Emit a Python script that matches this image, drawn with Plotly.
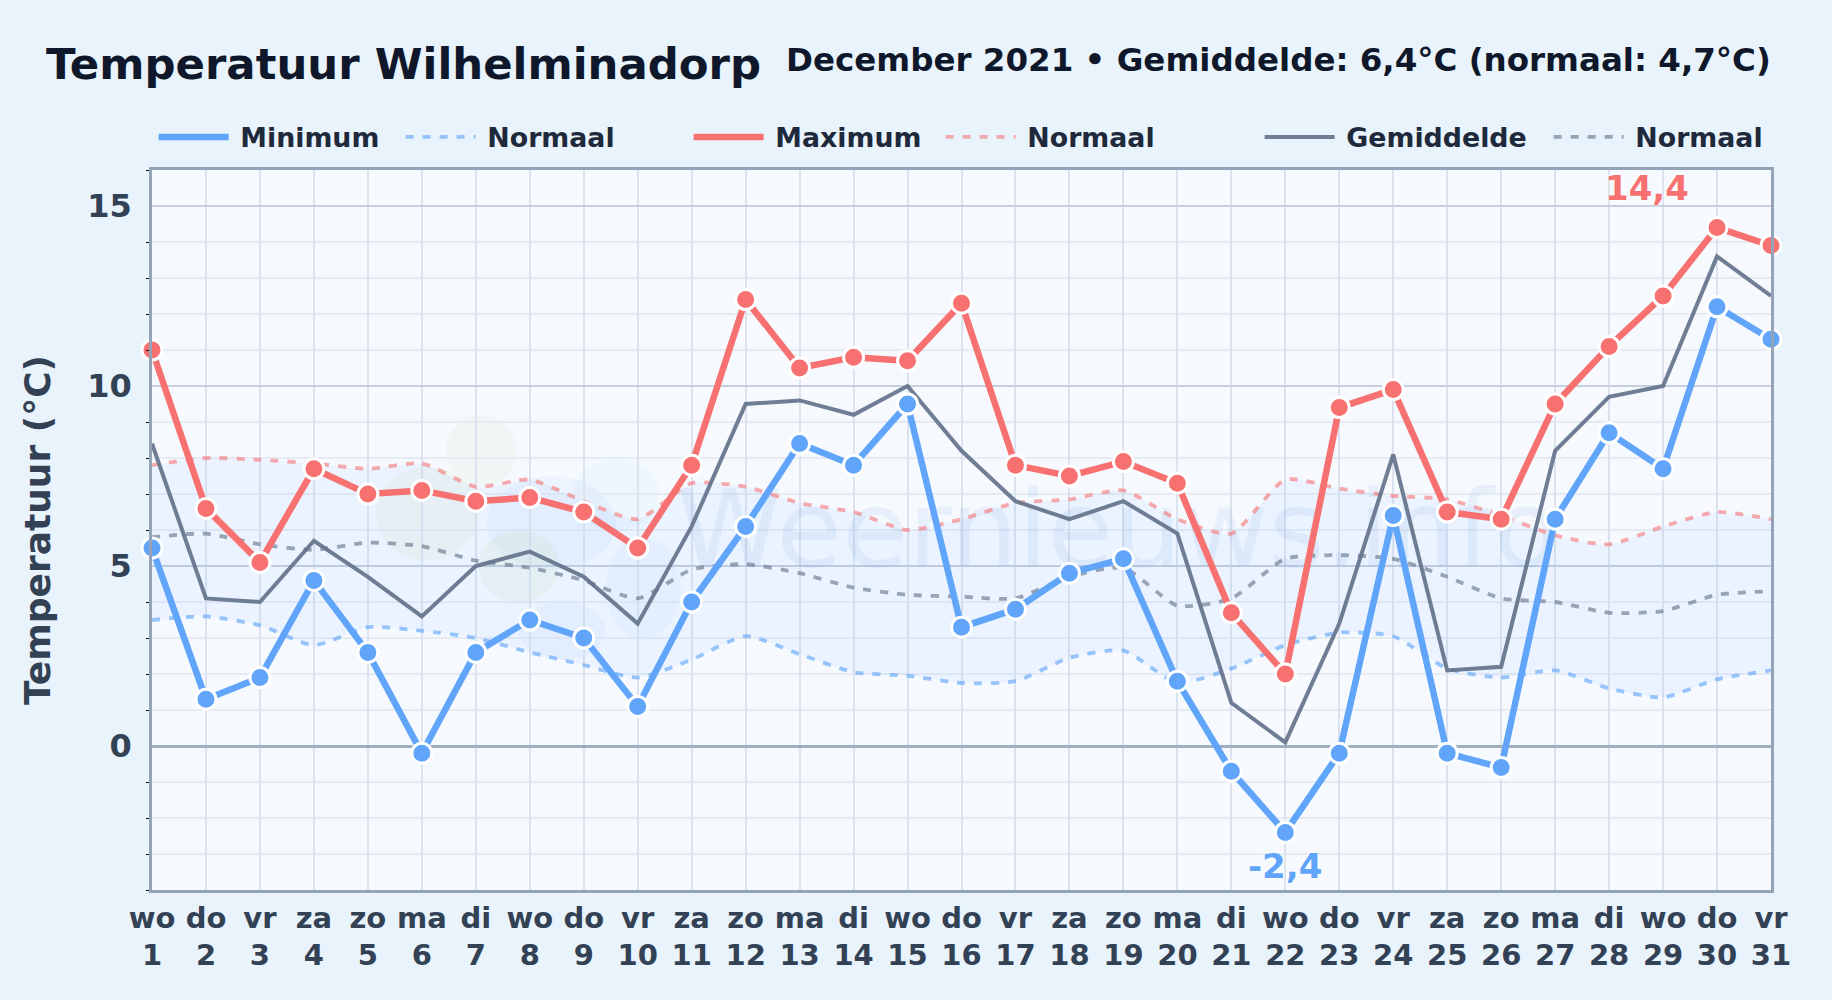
import plotly.graph_objects as go

days = list(range(1, 32))
weekdays = ["wo","do","vr","za","zo","ma","di"] * 5
tick_labels = [f"{weekdays[i]}<br>{d}" for i, d in enumerate(days)]

t_min = [5.5,1.3,1.9,4.6,2.6,-0.2,2.6,3.5,3.0,1.1,4.0,6.1,8.4,7.8,9.5,3.3,3.8,4.8,5.2,1.8,-0.7,-2.4,-0.2,6.4,-0.2,-0.6,6.3,8.7,7.7,12.2,11.3]
t_max = [11.0,6.6,5.1,7.7,7.0,7.1,6.8,6.9,6.5,5.5,7.8,12.4,10.5,10.8,10.7,12.3,7.8,7.5,7.9,7.3,3.7,2.0,9.4,9.9,6.5,6.3,9.5,11.1,12.5,14.4,13.9]
t_avg = [8.4,4.1,4.0,5.7,4.7,3.6,5.0,5.4,4.7,3.4,6.1,9.5,9.6,9.2,10.0,8.2,6.8,6.3,6.8,5.9,1.2,0.1,3.4,8.1,2.1,2.2,8.2,9.7,10.0,13.6,12.5]
n_max = [7.8,8.0,7.95,7.85,7.7,7.85,7.2,7.4,6.8,6.3,7.3,7.2,6.75,6.5,6.0,6.3,6.75,6.85,7.1,6.3,5.9,7.4,7.15,6.95,6.85,6.4,5.85,5.6,6.1,6.5,6.3]
n_avg = [5.8,5.9,5.6,5.45,5.65,5.55,5.15,4.95,4.6,4.1,4.9,5.05,4.8,4.4,4.2,4.15,4.1,4.7,4.95,3.9,4.1,5.2,5.3,5.2,4.7,4.1,4.0,3.7,3.75,4.2,4.3]
n_min = [3.5,3.6,3.35,2.8,3.3,3.2,3.0,2.6,2.25,1.9,2.4,3.05,2.55,2.05,1.95,1.75,1.8,2.45,2.65,1.75,2.15,2.8,3.15,3.05,2.15,1.9,2.1,1.6,1.35,1.85,2.1]

FONT = "DejaVu Sans"
BLUE, RED, GREY = "#60a5fa", "#f87171", "#64748b"
SPL = dict(shape="spline", smoothing=0.6)
DOT = "8px,9px"
GAP = "\u2005"

fig = go.Figure()

# watermark text
fig.add_trace(go.Scatter(x=[18.9], y=[5.75], mode="text", text=["Weernieuws.info"], showlegend=False,
                         hoverinfo="skip", textfont=dict(family=FONT, size=107, color="rgba(96,150,220,0.10)")))

# normal band
fig.add_trace(go.Scatter(x=days, y=n_min, mode="lines", line=dict(width=0, **SPL), showlegend=False, hoverinfo="skip"))
fig.add_trace(go.Scatter(x=days, y=n_max, mode="lines", line=dict(width=0, **SPL), fill="tonexty",
                         fillcolor="rgba(96,165,250,0.08)", showlegend=False, hoverinfo="skip"))

def line(y, name, color, width, rank, lw, dash=None, opacity=1.0, spline=False):
    l = dict(color=color, width=width)
    if dash: l["dash"] = dash
    if spline: l.update(SPL)
    fig.add_trace(go.Scatter(x=days, y=y, mode="lines", name=GAP + name, line=l, opacity=opacity,
                             legendrank=rank, legendwidth=lw))

line(n_min, "Normaal", BLUE, 3.8, 2, 203, DOT, 0.62, True)
line(n_max, "Normaal", RED, 3.8, 4, 234, DOT, 0.58, True)
line(n_avg, "Normaal", GREY, 3.8, 6, 130, DOT, 0.62, True)
line(t_avg, "Gemiddelde", GREY, 4, 5, 204, None, 0.92)
line(t_max, "Maximum", RED, 6.5, 3, 167, None)
line(t_min, "Minimum", BLUE, 6.5, 1, 162, None)

for y, c in ((t_max, RED), (t_min, BLUE)):
    fig.add_trace(go.Scatter(x=days, y=y, mode="markers", showlegend=False, cliponaxis=False,
                             marker=dict(size=20, color=c, line=dict(color="white", width=3))))

# faint logo of the watermark
blobs = [(7.1,8.2,0.65,1.0,"rgba(190,220,150,0.10)"),(6.1,6.45,0.95,1.3,"rgba(190,220,150,0.10)"),
         (7.8,5.0,0.75,1.0,"rgba(190,220,150,0.12)"),(8.4,6.2,1.2,1.3,"rgba(96,150,230,0.06)"),
         (9.6,7.0,0.8,1.0,"rgba(96,170,240,0.05)"),(10.1,4.4,0.7,1.4,"rgba(96,170,240,0.05)"),
         (8.6,3.2,0.8,0.8,"rgba(96,150,230,0.06)")]
shapes = [dict(type="circle", layer="below", xref="x", yref="y", x0=x-rx, x1=x+rx, y0=y-ry, y1=y+ry,
               fillcolor=c, line=dict(width=0)) for x, y, rx, ry, c in blobs]

annots = [
    dict(text="December 2021 • Gemiddelde: 6,4°C (normaal: 4,7°C)", xref="paper", yref="paper", x=1, y=1,
         xanchor="right", yanchor="middle", yshift=110, xshift=2, showarrow=False,
         font=dict(family=FONT, size=32.5, weight="bold", color="#0f172a")),
    dict(text="14,4", x=30, y=14.4, xshift=-70, yshift=40, showarrow=False,
         font=dict(family=FONT, size=34, weight="bold", color=RED, shadow="0 0 4px white")),
    dict(text="-2,4", x=22, y=-2.4, yshift=-34, showarrow=False,
         font=dict(family=FONT, size=34, weight="bold", color=BLUE, shadow="0 0 4px white")),
]

fig.update_layout(
    width=1832, height=1000, margin=dict(l=152, r=61, t=170, b=110),
    paper_bgcolor="#e8f3fc", plot_bgcolor="#f6faff",
    font=dict(family=FONT),
    title=dict(text="Temperatuur Wilhelminadorp", x=46/1832, xanchor="left", y=1-64/1000, yanchor="middle",
               font=dict(family=FONT, size=43.4, weight="bold", color="#0f172a")),
    legend=dict(orientation="h", x=0.001, xanchor="left", y=1+(170-137)/720, yanchor="middle",
                itemwidth=70, bgcolor="rgba(0,0,0,0)", font=dict(family=FONT, size=26.8, weight="bold", color="#1e293b"),
                traceorder="normal", itemclick=False, tracegroupgap=0),
    xaxis=dict(range=[1, 31], tickmode="array", tickvals=days, ticktext=tick_labels, tickangle=0,
               showgrid=True, gridcolor="#dde3ee", gridwidth=1.6, zeroline=False, ticks="",
               showline=True, linecolor="#94a3b8", linewidth=2.5, mirror=True,
               tickfont=dict(family=FONT, size=29, weight="bold", color="#334155")),
    yaxis=dict(range=[-4, 16], tick0=0, dtick=5, showgrid=True, gridcolor="#c5cfdf", gridwidth=2.2,
               zeroline=True, zerolinecolor="#a0aec0", zerolinewidth=2.5, ticks="", ticklabelstandoff=11,
               showline=True, linecolor="#94a3b8", linewidth=2.5, mirror=True,
               tickfont=dict(family=FONT, size=32, weight="bold", color="#334155"),
               title=dict(text="Temperatuur (°C)", standoff=26, font=dict(family=FONT, size=36, weight="bold", color="#334155")),
               minor=dict(dtick=1, tick0=0, showgrid=True, gridcolor="#e6ebf3", gridwidth=1.6,
                          ticks="outside", ticklen=3, tickcolor="#111", tickwidth=1)),
    shapes=shapes, annotations=annots,
)
fig.write_html("out.html", post_script="document.body.style.margin='0';", config={"displayModeBar": False})
